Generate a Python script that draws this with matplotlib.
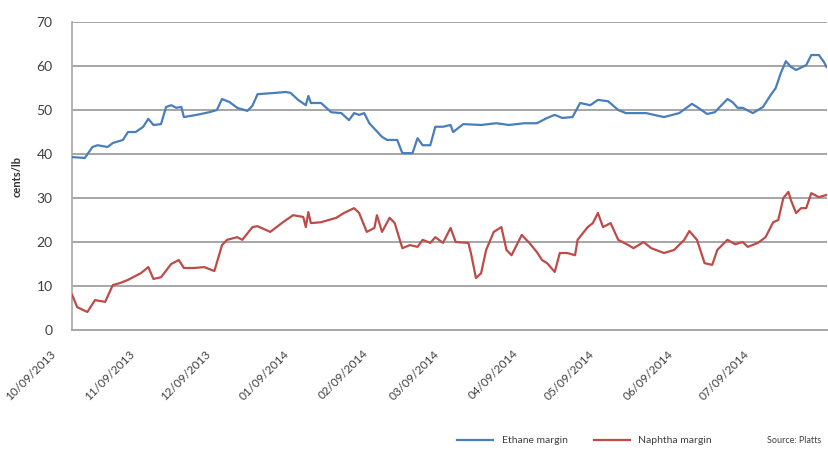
import matplotlib
matplotlib.use("Agg")
import matplotlib.pyplot as plt
import matplotlib.dates as mdates
import matplotlib.transforms as mtransforms
import numpy as np
import pandas as pd

plt.rcParams['font.family'] = ['Lato', 'DejaVu Sans']

# ---------------- data ----------------
start_date = "2013-10-09"  # first point of both series

# days after start_date / cents per lb
ethane_days = [0, 5, 8, 10, 14, 16, 20, 22, 25, 28, 30, 32, 35, 37, 39, 41, 43, 44,
               49, 54, 57, 59, 62, 65, 69, 71, 73, 80, 84, 86, 89, 92, 93, 94, 98,
               102, 106, 109, 111, 113, 115, 117, 122, 124, 128, 130, 134, 136, 138,
               141, 143, 146, 149, 150, 154, 161, 167, 172, 178, 183, 187, 190, 193,
               197, 200, 204, 207, 211, 215, 218, 226, 233, 239, 244, 246, 250, 253,
               258, 260, 262, 264, 268, 272, 275, 277, 279, 281, 283, 285, 289, 291,
               294, 296, 297]
ethane_margin = [39.3, 39.1, 41.6, 42.0, 41.6, 42.5, 43.2, 45.0, 45.0, 46.2, 48.0, 46.6,
                 46.8, 50.7, 51.1, 50.5, 50.7, 48.4, 48.9, 49.5, 50.0, 52.5, 51.8, 50.5,
                 49.8, 51.0, 53.6, 53.9, 54.1, 53.9, 52.3, 51.1, 53.2, 51.6, 51.6, 49.5,
                 49.3, 47.7, 49.3, 48.9, 49.3, 47.0, 43.9, 43.2, 43.2, 40.2, 40.2, 43.6,
                 42.0, 42.0, 46.2, 46.2, 46.6, 45.0, 46.8, 46.6, 47.0, 46.6, 47.0, 47.0,
                 48.2, 48.9, 48.2, 48.4, 51.6, 51.1, 52.3, 52.0, 50.0, 49.3, 49.3, 48.4,
                 49.3, 51.4, 50.7, 49.1, 49.5, 52.5, 51.8, 50.5, 50.5, 49.3, 50.7, 53.4,
                 55.0, 58.4, 61.1, 59.8, 59.1, 60.2, 62.5, 62.5, 60.9, 59.8]

naphtha_days = [0, 2, 6, 9, 13, 16, 19, 22, 24, 27, 30, 32, 35, 39, 42, 44, 48, 52, 56,
                59, 61, 65, 67, 71, 73, 78, 83, 87, 91, 92, 93, 94, 98, 104, 107, 111,
                113, 116, 119, 120, 122, 125, 127, 130, 133, 136, 138, 141, 143, 146,
                149, 151, 156, 157, 159, 161, 163, 166, 169, 171, 173, 177, 180, 183,
                185, 187, 190, 192, 195, 198, 199, 203, 205, 207, 209, 212, 215, 219,
                221, 225, 228, 233, 237, 241, 243, 246, 249, 252, 254, 258, 261, 264,
                266, 270, 273, 276, 278, 280, 282, 283, 285, 287, 289, 291, 294, 297]
naphtha_margin = [8.0, 5.2, 4.1, 6.8, 6.4, 10.2, 10.7, 11.4, 12.0, 12.9, 14.3, 11.6,
                  12.0, 15.0, 15.9, 14.1, 14.1, 14.3, 13.4, 19.3, 20.5, 21.1, 20.5, 23.4,
                  23.6, 22.3, 24.5, 26.1, 25.7, 23.4, 26.8, 24.3, 24.5, 25.5, 26.6, 27.7,
                  26.6, 22.3, 23.2, 26.1, 22.3, 25.5, 24.3, 18.6, 19.3, 18.9, 20.5, 19.8,
                  21.1, 19.8, 23.2, 20.0, 19.8, 17.5, 11.8, 12.9, 18.2, 22.3, 23.4, 18.2,
                  17.0, 21.6, 19.8, 17.7, 15.9, 15.2, 13.2, 17.5, 17.5, 17.0, 20.5, 23.4,
                  24.3, 26.6, 23.4, 24.3, 20.5, 19.3, 18.6, 20.0, 18.6, 17.5, 18.2, 20.5,
                  22.5, 20.5, 15.2, 14.8, 18.2, 20.5, 19.5, 20.0, 18.9, 19.8, 21.1, 24.5,
                  25.0, 30.0, 31.4, 29.5, 26.6, 27.7, 27.7, 31.1, 30.2, 30.7]

tick_dates = ["2013-10-09", "2013-11-09", "2013-12-09", "2014-01-09", "2014-02-09",
              "2014-03-09", "2014-04-09", "2014-05-09", "2014-06-09", "2014-07-09"]
y_ticks = [0, 10, 20, 30, 40, 50, 60, 70]

# ---------------- plot ----------------
base = pd.Timestamp(start_date)
eth_x = [base + pd.Timedelta(days=d) for d in ethane_days]
nap_x = [base + pd.Timedelta(days=d) for d in naphtha_days]

fig = plt.figure(figsize=(8.29, 4.59), dpi=100)
ax = fig.add_axes([0.087, 0.281, 0.910, 0.671])

grid_col = "#a6a6a6"
for v in y_ticks[1:]:
    ax.axhline(v, color=grid_col, lw=1.4, zorder=1)

ln1, = ax.plot(eth_x, ethane_margin, color="#4a7ebb", lw=1.6, zorder=3)
ln2, = ax.plot(nap_x, naphtha_margin, color="#be4b48", lw=1.6, zorder=3)

ax.set_ylim(0, 70)
ax.set_yticks(y_ticks)
ax.set_xlim(base, eth_x[-1])
ax.set_xticks([pd.Timestamp(t) for t in tick_dates])
ax.xaxis.set_major_formatter(mdates.DateFormatter("%m/%d/%Y"))

for s in ["top", "right"]:
    ax.spines[s].set_visible(False)
ax.spines["left"].set_color(grid_col)
ax.spines["bottom"].set_color(grid_col)
ax.spines["left"].set_linewidth(1.2)
ax.spines["bottom"].set_linewidth(1.4)

ax.tick_params(axis="y", length=0, pad=14, labelsize=10, labelcolor="#404040")
ax.tick_params(axis="x", length=0, pad=13, labelsize=8.5, labelcolor="#404040")
shift = mtransforms.ScaledTranslation(-22 / 100, 0, fig.dpi_scale_trans)
for lab in ax.get_xticklabels():
    lab.set_rotation(45)
    lab.set_ha("right")
    lab.set_rotation_mode("anchor")
    lab.set_transform(lab.get_transform() + shift)

ax.set_ylabel("cents/lb", fontsize=8, fontweight="bold", color="#303030", labelpad=10)

fig.legend([ln1, ln2], ["Ethane margin", "Naphtha margin"], loc="center",
           bbox_to_anchor=(0.705, 0.04), ncol=2, frameon=False, fontsize=7.5,
           handlelength=3.5, columnspacing=2.5, labelcolor="#404040")
fig.text(0.925, 0.04, "Source: Platts", fontsize=6.5, color="#404040",
         ha="left", va="center")

fig.savefig("out.png", dpi=100)
